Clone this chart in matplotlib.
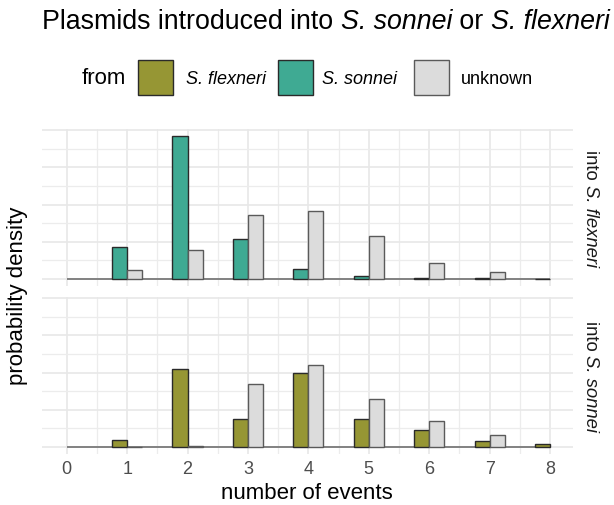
import matplotlib
matplotlib.use("Agg")
import matplotlib.pyplot as plt
from matplotlib.patches import Rectangle
import numpy as np

plt.rcParams['font.family'] = ['Liberation Sans', 'DejaVu Sans']

# ---------------- data ----------------
events = [1, 2, 3, 4, 5, 6, 7, 8]
x_ticks = [0, 1, 2, 3, 4, 5, 6, 7, 8]

# panel "into S. flexneri"
into_flex_from_sonnei = [0.137, 0.615, 0.171, 0.044, 0.014, 0.004, 0.0015, 0.0]
into_flex_unknown = [0.036, 0.126, 0.277, 0.294, 0.184, 0.069, 0.031, np.nan]
# panel "into S. sonnei"
into_son_from_flexneri = [0.029, 0.336, 0.121, 0.318, 0.118, 0.072, 0.026, 0.013]
into_son_unknown = [0.0, 0.004, 0.269, 0.353, 0.208, 0.113, 0.049, np.nan]

legend_labels = [[('S. flexneri', 'italic')], [('S. sonnei', 'italic')], [('unknown', 'normal')]]
colors = {'flex': '#969634', 'son': '#3FAA93', 'unk': '#DCDCDC'}
edges = {'flex': '#2a2a2a', 'son': '#2a2a2a', 'unk': '#5a5a5a'}

W, H = 614, 506
fig = plt.figure(figsize=(W / 100, H / 100), dpi=100)
renderer = fig.canvas.get_renderer()

def fx(px):
    return px / W

def fy(py):
    return 1 - py / H

def rich(xpx, ypx, pieces, size, color='black', align='left', vertical=False):
    """Draw text pieces with mixed styles; xpx,ypx in pixel coords from top-left."""
    widths = []
    for txt, style in pieces:
        t = fig.text(0, 0, txt, fontsize=size, fontstyle=style)
        widths.append(t.get_window_extent(renderer).width)
        t.remove()
    total = sum(widths)
    start = {'left': 0, 'center': -total / 2}[align]
    pos = start
    for (txt, style), w in zip(pieces, widths):
        if vertical:
            fig.text(fx(xpx), fy(ypx + pos), txt, fontsize=size, fontstyle=style,
                     color=color, rotation=-90, rotation_mode='anchor',
                     ha='left', va='center')
        else:
            fig.text(fx(xpx + pos), fy(ypx), txt, fontsize=size, fontstyle=style,
                     color=color, ha='left', va='center')
        pos += w

left, right = 41.7, 573
panels = [
    (130, 287, into_flex_from_sonnei, 'son', into_flex_unknown,
     [('into ', 'normal'), ('S. flexneri', 'italic')]),
    (298, 455, into_son_from_flexneri, 'flex', into_son_unknown,
     [('into ', 'normal'), ('S. sonnei', 'italic')]),
]

bw = 0.25
ev = np.array(events, dtype=float)
axes = []
for top, bot, vals_left, key_left, vals_right, strip in panels:
    ax = fig.add_axes([fx(left), fy(bot), fx(right - left), (bot - top) / H])
    axes.append(ax)
    ax.set_xlim(-0.414, 8.38)
    ax.set_ylim(-0.031, 0.646)
    ax.set_xticks(x_ticks)
    ax.set_xticks(np.arange(0.5, 8.5, 1.0), minor=True)
    ax.set_yticks(np.arange(0, 0.65, 0.16))
    ax.set_yticks(np.arange(0.08, 0.65, 0.16), minor=True)
    ax.grid(True, which='major', color='#E8E8E8', lw=1.2, zorder=0)
    ax.grid(True, which='minor', color='#ECECEC', lw=0.9, zorder=0)
    ax.set_axisbelow(True)
    for s in ax.spines.values():
        s.set_visible(False)
    ax.tick_params(which='both', length=0)
    ax.set_yticklabels([])
    ax.hlines(0, 0, 8, color='#7a7a7a', lw=1.3, zorder=1)
    ax.bar(ev - bw / 2, vals_left, width=bw, color=colors[key_left],
           edgecolor=edges[key_left], lw=1.0, zorder=2)
    ax.bar(ev + bw / 2, vals_right, width=bw, color=colors['unk'],
           edgecolor=edges['unk'], lw=1.0, zorder=2)
    rich(590, (top + bot) / 2, strip, 13.3, color='#1A1A1A', align='center',
         vertical=True)

axes[0].set_xticklabels([])
axes[1].set_xticklabels([str(t) for t in x_ticks], fontsize=13, color='#4D4D4D')
axes[1].tick_params(axis='x', pad=4)

fig.text(fx(307), fy(494), 'number of events', ha='center', va='center',
         fontsize=16, color='black')
fig.text(fx(18), fy(296), 'probability density', rotation=90, ha='center',
         va='center', fontsize=16, color='black')
rich(326, 22, [('Plasmids introduced into ', 'normal'), ('S. sonnei', 'italic'),
               (' or ', 'normal'), ('S. flexneri', 'italic')], 19.3, align='center')

# legend
fig.text(fx(82), fy(79), 'from', ha='left', va='center', fontsize=16)
key_x = [138.3, 278.3, 414.3]
lab_x = [186, 322, 461]
for k, kx, lx, lab in zip(['flex', 'son', 'unk'], key_x, lab_x, legend_labels):
    fig.add_artist(Rectangle((fx(kx), fy(96)), fx(35), 35 / H,
                             transform=fig.transFigure, facecolor=colors[k],
                             edgecolor=edges[k], lw=1.0))
    rich(lx, 79, lab, 13)

fig.savefig('out.png', dpi=100, facecolor='white')
